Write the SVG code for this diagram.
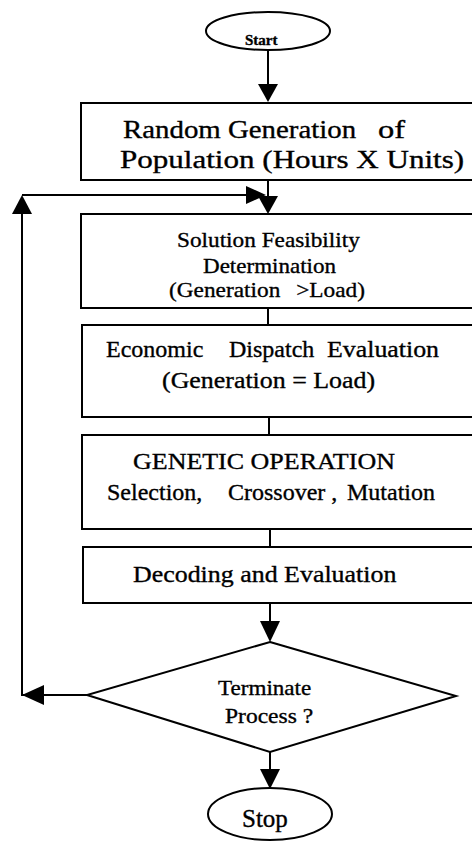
<svg xmlns="http://www.w3.org/2000/svg" width="472" height="842" viewBox="0 0 472 842">
<style>
.shape{fill:#fff;stroke:#000;stroke-width:2}
.line{fill:none;stroke:#000;stroke-width:2}
.head{fill:#000;stroke:none}
text{font-family:"Liberation Serif","Times New Roman",serif;fill:#000;stroke:#000;stroke-width:0.35}
.t26{font-size:26px}
.t24{font-size:24px}
.t22{font-size:22px}
</style>
<rect width="472" height="842" fill="#fff"/>
<g id="connectors">
<line class="line" x1="268" y1="50" x2="268" y2="86"/>
<polygon class="head" points="258,84 278,84 268,102"/>
<line class="line" x1="268" y1="180" x2="268" y2="198"/>
<polygon class="head" points="258,196 278,196 268,214"/>
<polyline class="line" points="88,695 22,695 22,210"/>
<polygon class="head" points="12,214 32,214 22,195"/>
<line class="line" x1="22" y1="195" x2="250" y2="195"/>
<polygon class="head" points="246,186 246,204 266,195"/>
<line class="line" x1="268" y1="308" x2="268" y2="325"/>
<line class="line" x1="269" y1="417" x2="269" y2="435"/>
<line class="line" x1="270" y1="529" x2="270" y2="547"/>
<line class="line" x1="270" y1="603" x2="270" y2="624"/>
<polygon class="head" points="260,621 280,621 270,642"/>
<polygon class="head" points="44,685 44,705 22,695"/>
<line class="line" x1="270" y1="752" x2="270" y2="772"/>
<polygon class="head" points="260,769 280,769 270,789"/>
</g>
<g id="start">
<ellipse class="shape" cx="268" cy="31" rx="62" ry="19"/>
<text transform="translate(245,45)" font-size="15" font-weight="bold">Start</text>
</g>
<g id="random">
<rect class="shape" x="81" y="103" width="400" height="77"/>
<text class="t26" transform="translate(123,138) scale(1.11,1)">Random Generation</text>
<text class="t26" transform="translate(378,138) scale(1.25,1)">of</text>
<text class="t26" transform="translate(120,168) scale(1.195,1)">Population (Hours X Units)</text>
</g>
<g id="feasibility">
<rect class="shape" x="81" y="214" width="400" height="94"/>
<text class="t22" transform="translate(177,247) scale(1.058,1)">Solution Feasibility</text>
<text class="t22" transform="translate(203,273) scale(1.047,1)">Determination</text>
<text class="t22" transform="translate(169,297) scale(1.06,1)"><tspan>(Generation</tspan><tspan x="120">&gt;Load)</tspan></text>
</g>
<g id="economic">
<rect class="shape" x="82" y="325" width="400" height="92"/>
<text class="t24" transform="translate(0,357)"><tspan x="106">Economic</tspan><tspan x="229">Dispatch</tspan><tspan x="327" textLength="112" lengthAdjust="spacingAndGlyphs">Evaluation</tspan></text>
<text class="t24" transform="translate(162,388) scale(1.08,1)">(Generation = Load)</text>
</g>
<g id="genetic">
<rect class="shape" x="82" y="435" width="400" height="94"/>
<text class="t24" transform="translate(133,469) scale(1.083,1)">GENETIC OPERATION</text>
<text class="t24" transform="translate(0,500)"><tspan x="107">Selection,</tspan><tspan x="228">Crossover ,</tspan><tspan x="347">Mutation</tspan></text>
</g>
<g id="decoding">
<rect class="shape" x="83" y="547" width="400" height="56"/>
<text class="t24" transform="translate(133,582) scale(1.08,1)">Decoding and Evaluation</text>
</g>
<g id="terminate">
<polygon class="shape" points="270,642 456,696 270,752 87,695"/>
<text class="t22" transform="translate(218,695) scale(1.05,1)">Terminate</text>
<text class="t22" transform="translate(225,723) scale(1.07,1)">Process ?</text>
</g>
<g id="stop">
<ellipse class="shape" cx="270" cy="814" rx="62" ry="26"/>
<text transform="translate(242,827)" font-size="25">Stop</text>
</g>
</svg>
